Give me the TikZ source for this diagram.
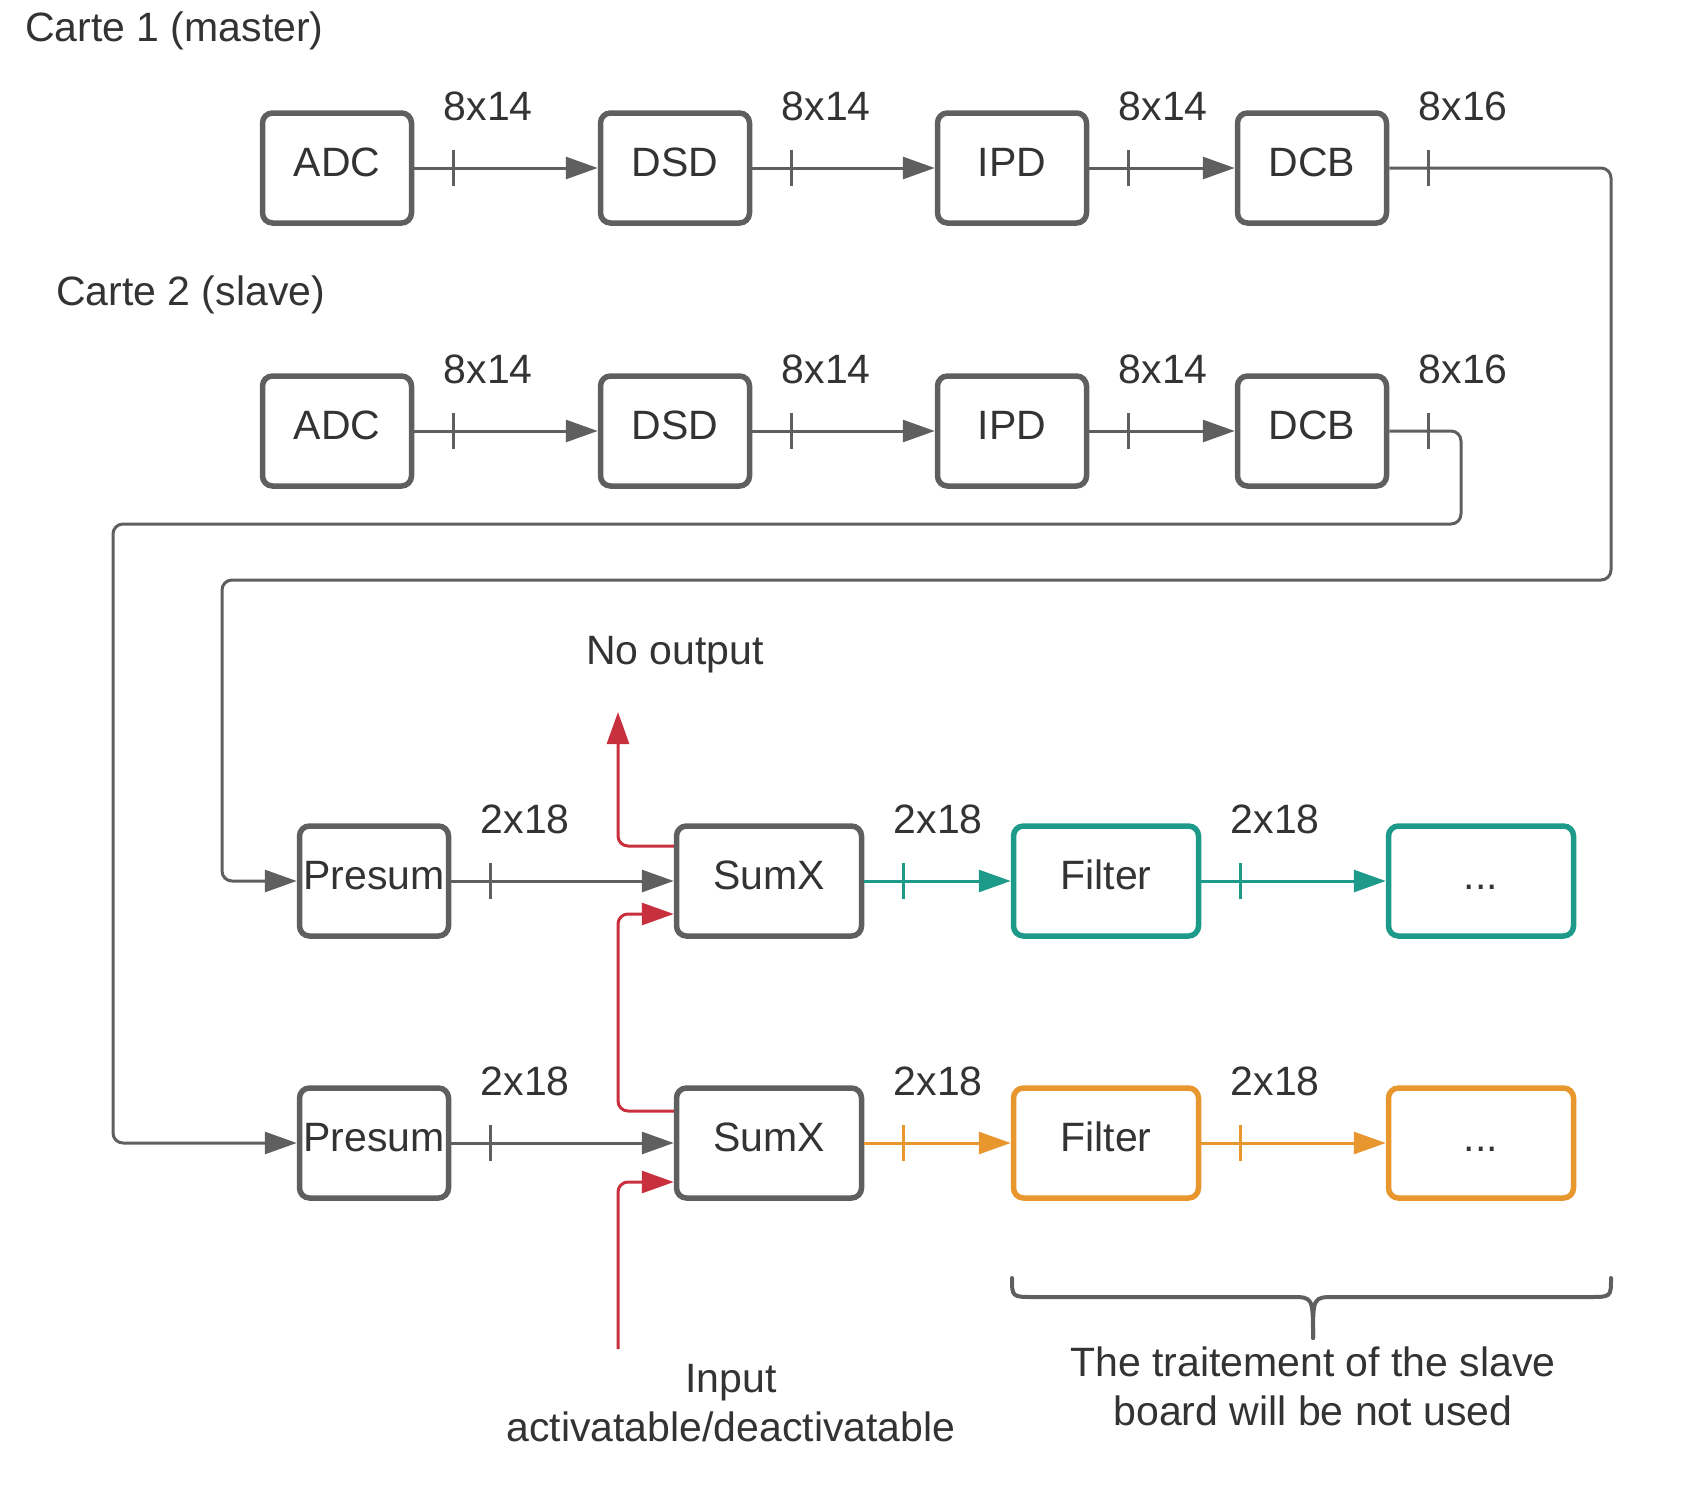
\documentclass[tikz,border=0pt]{standalone}
\usepackage{fontspec}
\setmainfont{Liberation Sans}
\usetikzlibrary{arrows.meta,calc}
\definecolor{edge}{HTML}{5F5F5F}
\definecolor{txt}{HTML}{333333}
\definecolor{tealc}{HTML}{1E9A8A}
\definecolor{orngc}{HTML}{E8962E}
\definecolor{redc}{HTML}{C9303E}
\newcommand\seg[4]{%
  \draw[conn,draw=#4] (#1.east) -- (#2.west);
  \draw[line width=3pt,#4] ($(#1.east)+(39,-18)$) -- ++(0,36);
  \node[lbl] at ($(#1.east)+(74,-62)$) {#3};}
\begin{document}
\begin{tikzpicture}[x=1pt,y=-1pt,
  box/.style={draw=edge, line width=5.5pt, rounded corners=10pt, minimum height=110pt,
    inner sep=0pt, text=txt, text height=30pt, text depth=14pt,
    font=\fontsize{41}{49}\selectfont},
  wbox/.style={box, minimum width=149pt},
  bbox/.style={box, minimum width=185pt},
  conn/.style={draw=edge, line width=3pt, -{Triangle[length=32pt,width=22pt]}},
  route/.style={conn, rounded corners=10pt},
  redl/.style={conn, draw=redc, rounded corners=10pt},
  lbl/.style={text=txt, font=\fontsize{41}{49}\selectfont, inner sep=0pt, align=center},
]
\useasboundingbox (0,0) rectangle (1706,1504);

% titles
\node[lbl, anchor=west] (t1) at (25,31) {Carte 1 (master)};
\node[lbl, anchor=west] (t2) at (56,295) {Carte 2 (slave)};

% row 1
\node[wbox] (ADC1) at (337,168) {ADC};
\node[wbox] (DSD1) at (675,168) {DSD};
\node[wbox] (IPD1) at (1012,168) {IPD};
\node[wbox] (DCB1) at (1312,168) {DCB};
% row 2
\node[wbox] (ADC2) at (337,431) {ADC};
\node[wbox] (DSD2) at (675,431) {DSD};
\node[wbox] (IPD2) at (1012,431) {IPD};
\node[wbox] (DCB2) at (1312,431) {DCB};
% row 3
\node[wbox] (P1) at (374,881) {Presum};
\node[bbox] (S1) at (769,881) {SumX};
\node[bbox, draw=tealc] (F1) at (1106,881) {Filter};
\node[bbox, draw=tealc] (D1) at (1481,881) {...};
% row 4
\node[wbox] (P2) at (374,1143) {Presum};
\node[bbox] (S2) at (769,1143) {SumX};
\node[bbox, draw=orngc] (F2) at (1106,1143) {Filter};
\node[bbox, draw=orngc] (D2) at (1481,1143) {...};

% row connectors
\seg{ADC1}{DSD1}{8x14}{edge}
\seg{DSD1}{IPD1}{8x14}{edge}
\seg{IPD1}{DCB1}{8x14}{edge}
\seg{ADC2}{DSD2}{8x14}{edge}
\seg{DSD2}{IPD2}{8x14}{edge}
\seg{IPD2}{DCB2}{8x14}{edge}
\seg{P1}{S1}{2x18}{edge}
\seg{S1}{F1}{2x18}{tealc}
\seg{F1}{D1}{2x18}{tealc}
\seg{P2}{S2}{2x18}{edge}
\seg{S2}{F2}{2x18}{orngc}
\seg{F2}{D2}{2x18}{orngc}

% DCB outputs
\draw[line width=3pt,edge] ($(DCB1.east)+(39,-18)$) -- ++(0,36);
\node[lbl] at ($(DCB1.east)+(74,-62)$) {8x16};
\draw[line width=3pt,edge] ($(DCB2.east)+(39,-18)$) -- ++(0,36);
\node[lbl] at ($(DCB2.east)+(74,-62)$) {8x16};

\coordinate (mA) at (1611,168);
\coordinate (mB) at (1611,580);
\coordinate (mC) at (222,580);
\coordinate (mD) at (222,881);
\draw[route] (DCB1.east) -- (mA) -- (mB) -- (mC) -- (mD) -- (P1.west);

\coordinate (sA) at (1461,431);
\coordinate (sB) at (1461,524);
\coordinate (sC) at (113,524);
\coordinate (sD) at (113,1143);
\draw[route] (DCB2.east) -- (sA) -- (sB) -- (sC) -- (sD) -- (P2.west);

% red lines
\coordinate (noout) at (618,712);
\draw[redl] ($(S1.west)+(0,-35)$) -- (618,846) -- (noout);
\draw[redl] ($(S2.west)+(0,-32)$) -- (618,1111) -- (618,914) -- ($(S1.west)+(0,33)$);
\coordinate (inp) at (618,1349);
\draw[redl] (inp) -- (618,1182) -- ($(S2.west)+(0,39)$);

\node[lbl] (nolbl) at (675,655) {No output};
\node[lbl] (inlbl) at (731,1403) {Input\\activatable/deactivatable};

% brace
\coordinate (bL) at (1012,1278);
\coordinate (bR) at (1611,1278);
\coordinate (bT) at (1313,1338);
\draw[edge, line width=4pt, line cap=round]
  (bL) .. controls (1012,1297) .. (1034,1297) -- (1291,1297) .. controls (1313,1297) .. (bT);
\draw[edge, line width=4pt, line cap=round]
  (bR) .. controls (1611,1297) .. (1589,1297) -- (1335,1297) .. controls (1313,1297) .. (bT);
\node[lbl] (brlbl) at (1313,1386) {The traitement of the slave\\board will be not used};
\end{tikzpicture}
\end{document}
